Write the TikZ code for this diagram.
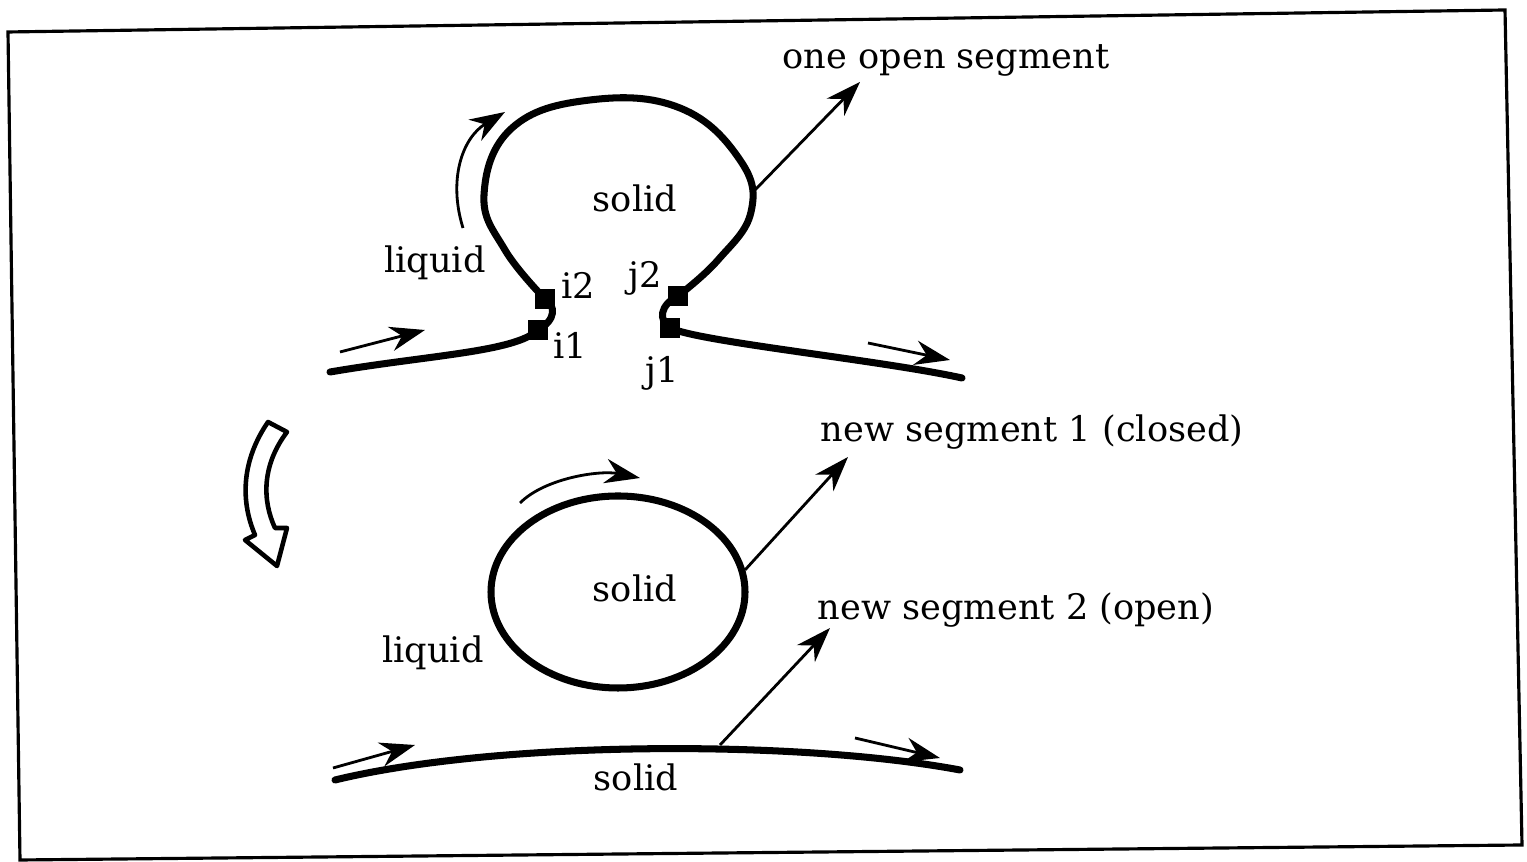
\documentclass[tikz,border=0pt]{standalone}
\usepackage{fontspec}
\setmainfont{DejaVu Serif}
\usetikzlibrary{arrows.meta}

\begin{document}
\begin{tikzpicture}[x=0.01cm,y=-0.01cm,
  lbl/.style={font=\fontsize{10}{12}\selectfont,inner sep=1pt},
  iface/.style={line width=2pt,line cap=round},
  ptr/.style={-{Stealth[length=10pt,width=7pt]},line width=0.8pt},
  knot/.style={fill=black,minimum size=5.5pt,inner sep=0pt}]
  \useasboundingbox (0,0) rectangle (1527,862);
  % frame
  \draw[line width=0.9pt] (8,32) -- (1505,10) -- (1522,845) -- (20,860) -- cycle;

  % before: one open segment
  \node[knot] (i1) at (538,330) {};
  \node[knot] (i2) at (545,299) {};
  \node[knot] (j2) at (678,296) {};
  \node[knot] (j1) at (670,328) {};
  \draw[iface] (330,372) .. controls (430,355) and (515,352) .. (i1.center);
  \draw[iface] (i1.center) .. controls (556,320) and (556,306) .. (i2.center);
  \draw[iface] plot[smooth,tension=0.7] coordinates {(545,299) (505,250) (484,195) (512,128) (590,100) (680,108) (740,160) (751,212) (718,260) (678,296)};
  \draw[iface] (j2.center) .. controls (660,305) and (658,320) .. (j1.center);
  \draw[iface] (j1.center) .. controls (700,342) and (880,360) .. (962,378);
  \coordinate (top) at (755,190);
  \coordinate (toptip) at (860,82);
  \node[lbl] (open) at (946,60) {one open segment};
  \draw[ptr] (top) -- (toptip);
  \node[lbl] (solidA) at (635,198) {solid};
  \node[lbl] (liquidA) at (435,263) {liquid};
  \node[lbl] (li2) at (578,285) {i2};
  \node[lbl] (li1) at (570,345) {i1};
  \node[lbl] (lj2) at (645,278) {j2};
  \node[lbl] (lj1) at (662,373) {j1};
  \draw[ptr] (463,228) .. controls (448,180) and (462,138) .. (505,112);
  \draw[ptr] (340,352) -- (425,330);
  \draw[ptr] (868,343) -- (950,360);

  % hollow step arrow
  \draw[line width=1.3pt,fill=white,line join=round]
    (268,422) -- (287,432) .. controls (262,465) and (262,500) .. (275,528)
    -- (287,528) -- (277,566) -- (245,540) -- (255,535)
    .. controls (240,500) and (242,460) .. cycle;

  % after: closed and open segments
  \draw[iface] (618,592) ellipse [x radius=127, y radius=96];
  \coordinate (ring) at (745,570);
  \coordinate (ringtip) at (848,457);
  \node[lbl] (closed) at (1032,432) {new segment 1 (closed)};
  \draw[ptr] (ring) -- (ringtip);
  \draw[ptr] (520,503) .. controls (545,478) and (600,470) .. (640,478);
  \node[lbl] (solidB) at (635,588) {solid};
  \node[lbl] (liquidB) at (433,653) {liquid};

  \draw[iface] (335,780) .. controls (500,740) and (800,740) .. (960,770);
  \coordinate (flat) at (720,745);
  \coordinate (flattip) at (830,628);
  \node[lbl] (openB) at (1016,610) {new segment 2 (open)};
  \draw[ptr] (flat) -- (flattip);
  \node[lbl] (solidC) at (636,777) {solid};
  \draw[ptr] (333,768) -- (415,745);
  \draw[ptr] (855,738) -- (940,758);
\end{tikzpicture}
\end{document}
